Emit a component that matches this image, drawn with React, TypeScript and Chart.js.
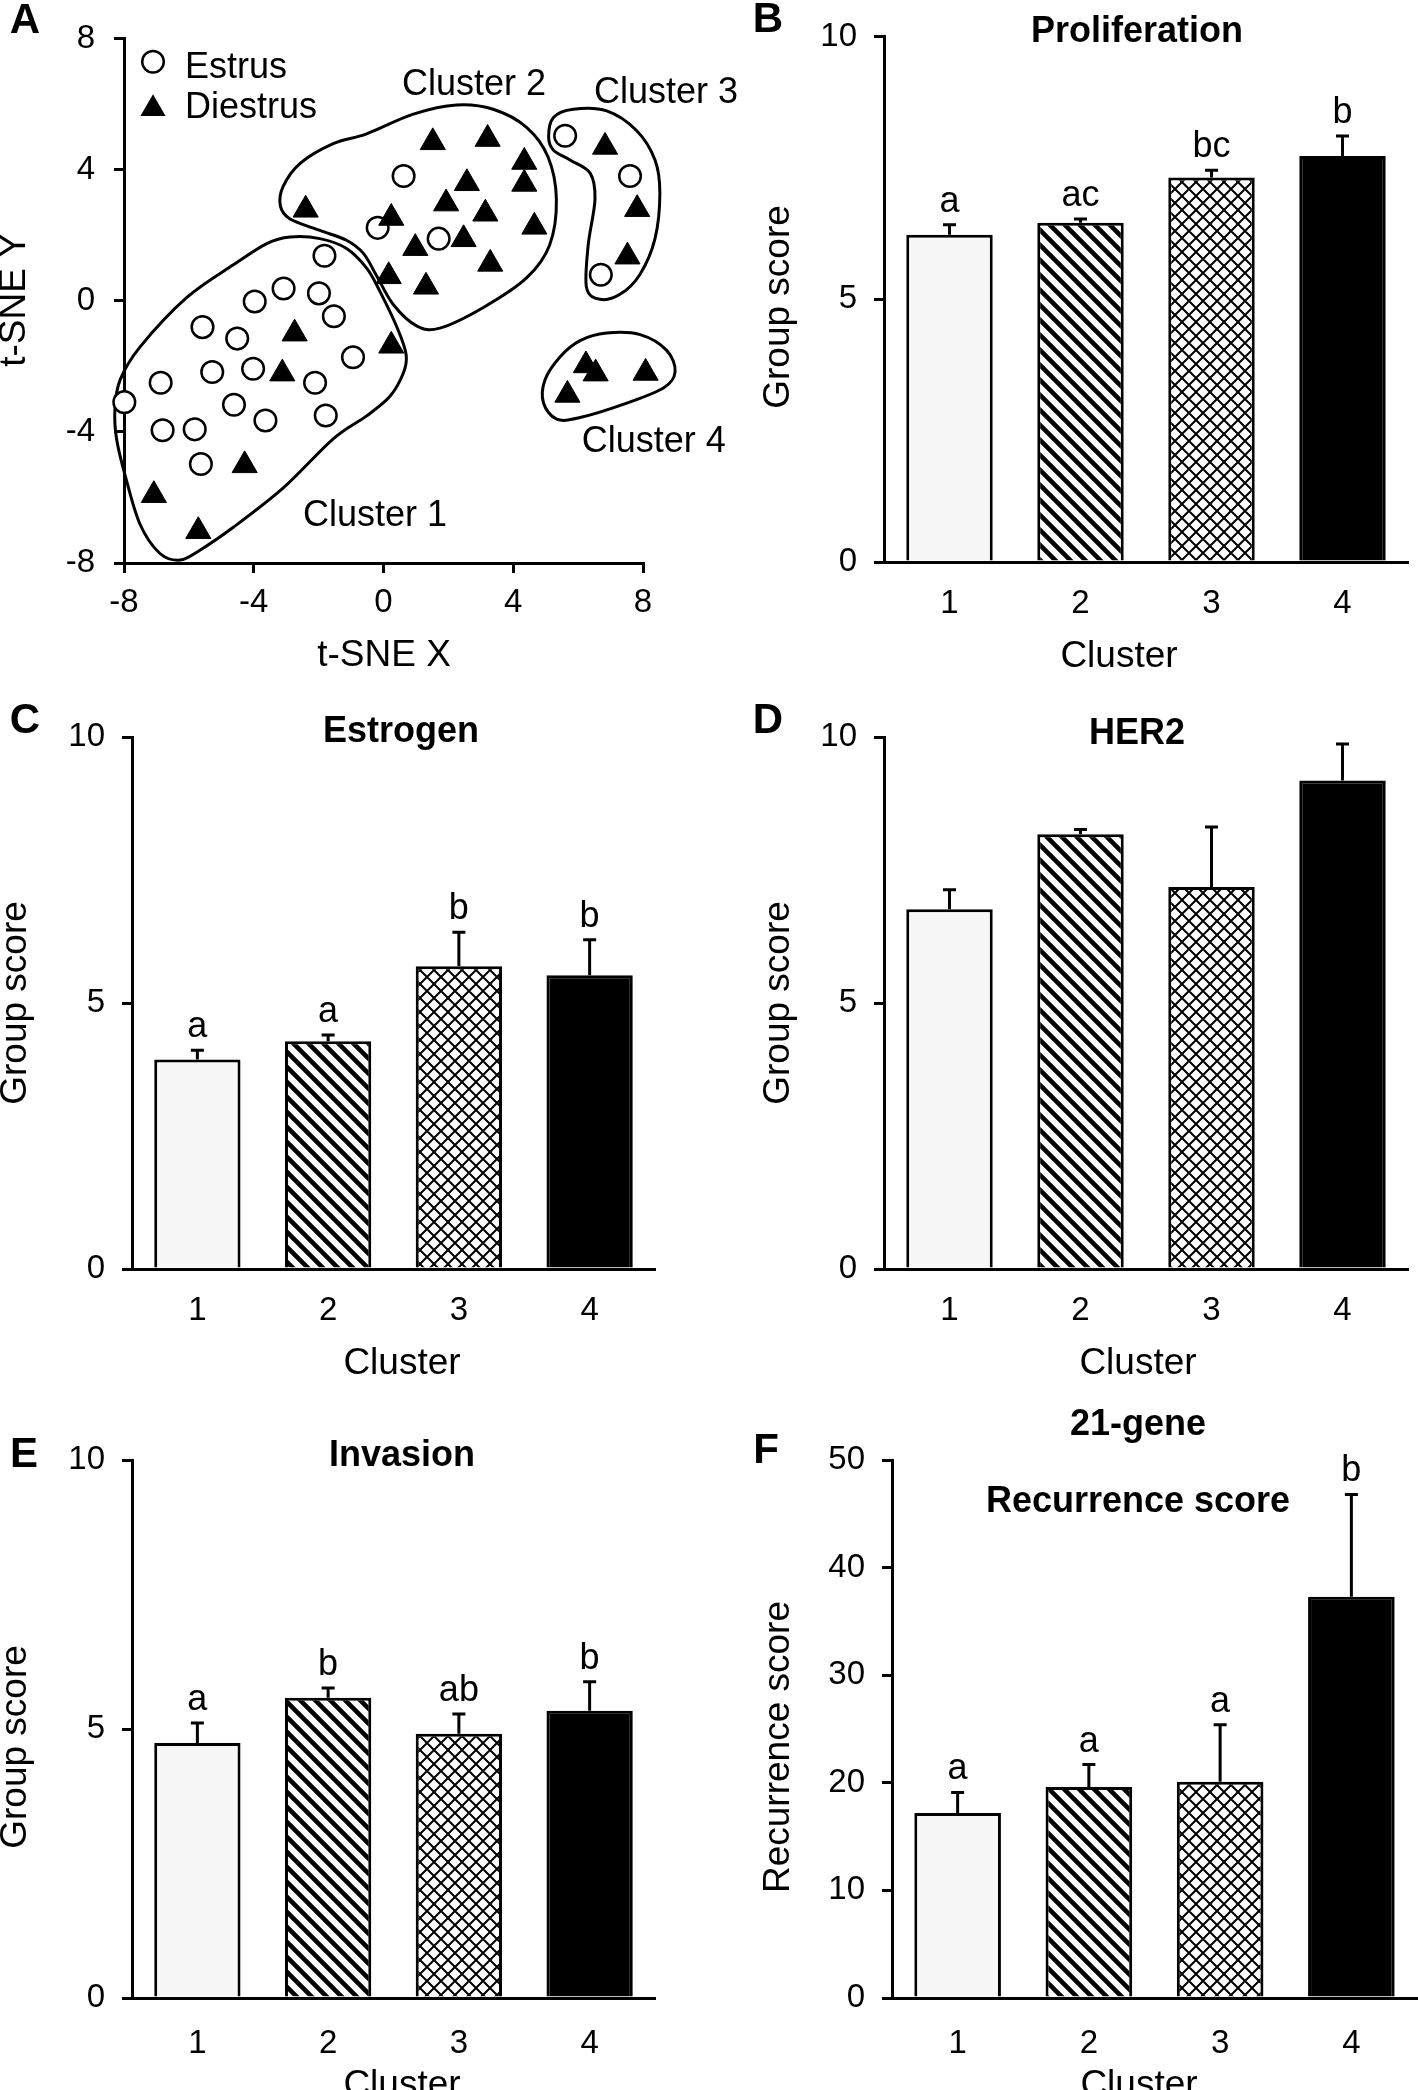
import React, { useEffect, useRef } from "react";
import { Chart, registerables } from "chart.js";

Chart.register(...registerables);

const FONT = "'Liberation Sans', Arial, Helvetica, sans-serif";

// ---------------- Panel A : t-SNE ----------------
const tsneTicks = [-8, -4, 0, 4, 8];
const legendLabels = ["Estrus", "Diestrus"];

const estrusX = [-1.82, -3.08, -3.97, -1.99, -1.53, -5.58, -4.51, -0.94, -5.28, -4.02, -2.11, -6.87, -7.99, -4.61, -3.64, -1.78, -6.81, -5.82, -5.63, 0.62, -0.18, 1.7, 5.6, 7.6, 6.7];
const estrusY = [1.38, 0.38, -0.02, 0.23, -0.47, -0.8, -1.15, -1.72, -2.17, -2.07, -2.5, -2.5, -3.09, -3.17, -3.65, -3.5, -3.95, -3.92, -4.98, 3.81, 2.23, 1.9, 5.04, 3.81, 0.8];

const diestrusX = [-2.74, -3.12, -4.28, -7.08, -5.71, 0.24, -2.4, 1.52, 3.21, 4.34, 4.34, 2.57, 1.93, 3.14, 0.24, 4.65, 2.47, 0.98, 3.29, 0.16, 1.31, 6.83, 7.82, 7.52, 6.24, 6.54, 8.08, 5.67];
const diestrusY = [-1.0, -2.22, -5.02, -5.93, -7.03, -1.37, 2.78, 4.84, 4.94, 4.24, 3.57, 3.59, 2.97, 2.66, 2.53, 2.26, 1.88, 1.61, 1.13, 0.75, 0.43, 4.7, 2.8, 1.35, -1.97, -2.22, -2.2, -2.87];

const cluster1OutlineX = [-2.88, -1.96, -1.14, -0.52, -0.11, 0.46, 0.7, 0.61, 0.2, -0.52, -1.55, -3.09, -4.63, -5.66, -6.27, -6.89, -7.51, -7.97, -8.23, -8.28, -8.12, -7.51, -6.07, -4.63, -3.6];
const cluster1OutlineY = [1.95, 1.9, 1.6, 1.0, 0.29, -0.91, -1.66, -2.21, -2.91, -3.51, -4.21, -5.71, -6.91, -7.61, -7.91, -7.71, -6.81, -5.31, -4.21, -3.31, -2.41, -1.41, 0.1, 1.1, 1.75];
const cluster2OutlineX = [0.92, 2.25, 3.38, 4.41, 5.07, 5.33, 5.12, 4.41, 3.08, 1.74, 1.02, 0.3, -0.23, -0.62, -1.14, -1.96, -2.88, -3.18, -3.09, -2.57, -1.55, -0.52];
const cluster2OutlineY = [5.7, 5.98, 5.85, 5.3, 4.4, 3.1, 1.7, 0.7, -0.2, -0.83, -0.76, -0.11, 0.8, 1.45, 1.85, 2.15, 2.5, 2.9, 3.5, 4.2, 4.8, 5.1];
const cluster3OutlineX = [5.24, 5.85, 6.88, 7.8, 8.37, 8.52, 8.37, 7.9, 7.29, 6.67, 6.26, 6.31, 6.52, 6.37, 5.75, 5.24, 5.09];
const cluster3OutlineY = [5.6, 5.85, 5.8, 5.2, 4.3, 3.3, 1.9, 0.8, 0.2, 0.05, 0.4, 1.7, 3.1, 3.9, 4.3, 4.6, 5.0];
const cluster4OutlineX = [6.88, 7.91, 8.73, 8.99, 8.63, 7.39, 6.06, 5.34, 4.93, 4.98, 5.44, 6.06];
const cluster4OutlineY = [-0.98, -1.03, -1.51, -2.16, -2.66, -3.16, -3.56, -3.61, -3.11, -2.41, -1.71, -1.21];

const clusterNames = ["Cluster 1", "Cluster 2", "Cluster 3", "Cluster 4"];
const clusterNameX = [-0.26, 2.79, 8.71, 8.33];
const clusterNameY = [-6.56, 6.59, 6.35, -4.31];

// ---------------- Bar panels ----------------
const clusterCategories = ["1", "2", "3", "4"];
const groupScoreTicks = [0, 5, 10];
const recurrenceTicks = [0, 10, 20, 30, 40, 50];

const proliferationMean = [6.23, 6.46, 7.32, 7.73];
const proliferationSem = [0.19, 0.07, 0.14, 0.38];
const proliferationLetters = ["a", "ac", "bc", "b"];

const estrogenMean = [3.94, 4.28, 5.69, 5.52];
const estrogenSem = [0.17, 0.12, 0.64, 0.67];
const estrogenLetters = ["a", "a", "b", "b"];

const her2Mean = [6.76, 8.17, 7.18, 9.18];
const her2Sem = [0.37, 0.09, 1.13, 0.69];
const her2Letters = ["", "", "", ""];

const invasionMean = [4.74, 5.58, 4.91, 5.34];
const invasionSem = [0.37, 0.18, 0.37, 0.54];
const invasionLetters = ["a", "b", "ab", "b"];

const recurrenceMean = [17.2, 19.6, 20.1, 37.3];
const recurrenceSem = [1.9, 2.1, 5.3, 9.5];
const recurrenceLetters = ["a", "a", "a", "b"];

// ---------------- layout types ----------------
type Rect = { x: number; y: number; w: number; h: number };
type Area = { l: number; t: number; r: number; b: number };
type Label = { text: string; x: number; y: number };
type PanelText = { letter: Label; titles: Label[]; xTitle: Label; yTitle: Label };

const TICK_SIZE = 33;

function panelTextPlugin(rect: Rect, t: PanelText) {
  return {
    id: "panelText",
    afterDraw(chart: any) {
      const ctx: CanvasRenderingContext2D = chart.ctx;
      ctx.save();
      ctx.fillStyle = "#000";
      ctx.textAlign = "center";
      ctx.textBaseline = "middle";
      ctx.font = `bold 42px ${FONT}`;
      ctx.fillText(t.letter.text, t.letter.x - rect.x, t.letter.y - rect.y);
      ctx.font = `bold 36px ${FONT}`;
      t.titles.forEach((s) => ctx.fillText(s.text, s.x - rect.x, s.y - rect.y));
      ctx.font = `37px ${FONT}`;
      ctx.textBaseline = "alphabetic";
      ctx.fillText(t.xTitle.text, t.xTitle.x - rect.x, t.xTitle.y - rect.y);
      ctx.translate(t.yTitle.x - rect.x, t.yTitle.y - rect.y);
      ctx.rotate(-Math.PI / 2);
      ctx.fillText(t.yTitle.text, 0, 0);
      ctx.restore();
    },
  };
}

function stripePattern(ctx: CanvasRenderingContext2D) {
  const s = 15;
  const c = document.createElement("canvas");
  c.width = s;
  c.height = s;
  const g = c.getContext("2d")!;
  g.fillStyle = "#fff";
  g.fillRect(0, 0, s, s);
  g.strokeStyle = "#000";
  g.lineWidth = 4.6;
  g.beginPath();
  g.moveTo(-4, -4);
  g.lineTo(s + 4, s + 4);
  g.moveTo(-4, s - 4);
  g.lineTo(4, s + 4);
  g.moveTo(s - 4, -4);
  g.lineTo(s + 4, 4);
  g.stroke();
  return ctx.createPattern(c, "repeat")!;
}

function crossPattern(ctx: CanvasRenderingContext2D) {
  const s = 14;
  const c = document.createElement("canvas");
  c.width = s;
  c.height = s;
  const g = c.getContext("2d")!;
  g.fillStyle = "#fff";
  g.fillRect(0, 0, s, s);
  g.strokeStyle = "#000";
  g.lineWidth = 2;
  g.beginPath();
  g.moveTo(-1, -1);
  g.lineTo(s + 1, s + 1);
  g.moveTo(s + 1, -1);
  g.lineTo(-1, s + 1);
  g.stroke();
  return ctx.createPattern(c, "repeat")!;
}

type BarSpec = {
  key: string;
  rect: Rect;
  area: Area;
  mean: number[];
  sem: number[];
  letters: string[];
  ticks: number[];
  xTickPad: number;
  text: PanelText;
};

function barExtrasPlugin(spec: BarSpec) {
  return {
    id: "barExtras",
    afterDatasetsDraw(chart: any) {
      const ctx: CanvasRenderingContext2D = chart.ctx;
      const meta = chart.getDatasetMeta(0);
      const yScale = chart.scales.y;
      ctx.save();
      ctx.strokeStyle = "#000";
      ctx.fillStyle = "#000";
      ctx.lineWidth = 3;
      meta.data.forEach((bar: any, i: number) => {
        const top = yScale.getPixelForValue(spec.mean[i] + spec.sem[i]);
        ctx.beginPath();
        ctx.moveTo(bar.x, bar.y);
        ctx.lineTo(bar.x, top);
        ctx.moveTo(bar.x - 6.5, top);
        ctx.lineTo(bar.x + 6.5, top);
        ctx.stroke();
        const letter = spec.letters[i];
        if (letter) {
          ctx.font = `36px ${FONT}`;
          ctx.textAlign = "center";
          ctx.textBaseline = "alphabetic";
          ctx.fillText(letter, bar.x, top - 13);
        }
      });
      ctx.restore();
    },
  };
}

function buildBarConfig(canvas: HTMLCanvasElement, spec: BarSpec): any {
  const ctx = canvas.getContext("2d")!;
  const fills = ["#f7f7f7", stripePattern(ctx), crossPattern(ctx), "#000000"];
  const { rect, area } = spec;
  const yW = area.l - rect.x;
  const xH = rect.y + rect.h - area.b;
  const tickFont = { family: FONT, size: TICK_SIZE };
  return {
    type: "bar",
    data: {
      labels: clusterCategories,
      datasets: [
        {
          data: spec.mean,
          backgroundColor: fills,
          borderColor: "#000",
          borderWidth: 3,
          barPercentage: 0.66,
          categoryPercentage: 1,
        },
      ],
    },
    options: {
      responsive: false,
      animation: false,
      devicePixelRatio: 1,
      events: [],
      layout: { padding: { left: 0, top: area.t - rect.y, right: rect.x + rect.w - area.r, bottom: 0 } },
      plugins: { legend: { display: false }, tooltip: { enabled: false } },
      scales: {
        x: {
          type: "category",
          offset: true,
          grid: { display: false, drawTicks: false },
          border: { display: true, color: "#000", width: 3 },
          ticks: { color: "#000", font: tickFont, padding: spec.xTickPad },
          afterFit: (s: any) => {
            s.height = xH;
          },
        },
        y: {
          type: "linear",
          min: spec.ticks[0],
          max: spec.ticks[spec.ticks.length - 1],
          ticks: { stepSize: spec.ticks[1] - spec.ticks[0], color: "#000", font: tickFont, padding: 17 },
          grid: {
            display: true,
            drawOnChartArea: false,
            drawTicks: true,
            tickLength: 10,
            tickWidth: 3,
            tickColor: "#000",
            color: "#000",
            lineWidth: 3,
          },
          border: { display: true, color: "#000", width: 3 },
          afterFit: (s: any) => {
            s.width = yW;
          },
        },
      },
    },
    plugins: [barExtrasPlugin(spec), panelTextPlugin(rect, spec.text)],
  };
}

const barSpecs: BarSpec[] = [
  {
    key: "B",
    rect: { x: 720, y: 0, w: 698, h: 680 },
    area: { l: 884, t: 30, r: 1408, b: 562 },
    mean: proliferationMean,
    sem: proliferationSem,
    letters: proliferationLetters,
    ticks: groupScoreTicks,
    xTickPad: 22,
    text: {
      letter: { text: "B", x: 768, y: 20 },
      titles: [{ text: "Proliferation", x: 1137, y: 32 }],
      xTitle: { text: "Cluster", x: 1119, y: 667 },
      yTitle: { text: "Group score", x: 789, y: 307 },
    },
  },
  {
    key: "C",
    rect: { x: 0, y: 690, w: 710, h: 700 },
    area: { l: 132, t: 737, r: 655, b: 1269 },
    mean: estrogenMean,
    sem: estrogenSem,
    letters: estrogenLetters,
    ticks: groupScoreTicks,
    xTickPad: 22,
    text: {
      letter: { text: "C", x: 25, y: 721 },
      titles: [{ text: "Estrogen", x: 401, y: 732 }],
      xTitle: { text: "Cluster", x: 402, y: 1374 },
      yTitle: { text: "Group score", x: 26, y: 1003 },
    },
  },
  {
    key: "D",
    rect: { x: 720, y: 690, w: 698, h: 700 },
    area: { l: 884, t: 737, r: 1408, b: 1269 },
    mean: her2Mean,
    sem: her2Sem,
    letters: her2Letters,
    ticks: groupScoreTicks,
    xTickPad: 22,
    text: {
      letter: { text: "D", x: 768, y: 721 },
      titles: [{ text: "HER2", x: 1137, y: 734 }],
      xTitle: { text: "Cluster", x: 1138, y: 1374 },
      yTitle: { text: "Group score", x: 789, y: 1003 },
    },
  },
  {
    key: "E",
    rect: { x: 0, y: 1400, w: 710, h: 690 },
    area: { l: 132, t: 1460, r: 655, b: 1998 },
    mean: invasionMean,
    sem: invasionSem,
    letters: invasionLetters,
    ticks: groupScoreTicks,
    xTickPad: 26,
    text: {
      letter: { text: "E", x: 24, y: 1455 },
      titles: [{ text: "Invasion", x: 402, y: 1456 }],
      xTitle: { text: "Cluster", x: 402, y: 2096 },
      yTitle: { text: "Group score", x: 26, y: 1747 },
    },
  },
  {
    key: "F",
    rect: { x: 720, y: 1400, w: 698, h: 690 },
    area: { l: 892, t: 1460, r: 1417, b: 1998 },
    mean: recurrenceMean,
    sem: recurrenceSem,
    letters: recurrenceLetters,
    ticks: recurrenceTicks,
    xTickPad: 26,
    text: {
      letter: { text: "F", x: 766, y: 1451 },
      titles: [
        { text: "21-gene", x: 1138, y: 1425 },
        { text: "Recurrence score", x: 1138, y: 1502 },
      ],
      xTitle: { text: "Cluster", x: 1139, y: 2096 },
      yTitle: { text: "Recurrence score", x: 789, y: 1747 },
    },
  },
];

// ---------------- scatter (panel A) ----------------
const scatterRect: Rect = { x: 0, y: 0, w: 770, h: 680 };
const scatterArea: Area = { l: 124, t: 30, r: 643, b: 563 };
const scatterText: PanelText = {
  letter: { text: "A", x: 25, y: 21 },
  titles: [],
  xTitle: { text: "t-SNE X", x: 384, y: 666 },
  yTitle: { text: "t-SNE Y", x: 25, y: 300 },
};

function closedSpline(ctx: CanvasRenderingContext2D, pts: { x: number; y: number }[]) {
  const n = pts.length;
  ctx.beginPath();
  ctx.moveTo(pts[0].x, pts[0].y);
  for (let i = 0; i < n; i++) {
    const p0 = pts[(i - 1 + n) % n];
    const p1 = pts[i];
    const p2 = pts[(i + 1) % n];
    const p3 = pts[(i + 2) % n];
    ctx.bezierCurveTo(
      p1.x + (p2.x - p0.x) / 6,
      p1.y + (p2.y - p0.y) / 6,
      p2.x - (p3.x - p1.x) / 6,
      p2.y - (p3.y - p1.y) / 6,
      p2.x,
      p2.y
    );
  }
  ctx.closePath();
  ctx.stroke();
}

const outlines = [
  [cluster1OutlineX, cluster1OutlineY],
  [cluster2OutlineX, cluster2OutlineY],
  [cluster3OutlineX, cluster3OutlineY],
  [cluster4OutlineX, cluster4OutlineY],
];

const scatterExtrasPlugin = {
  id: "scatterExtras",
  beforeDatasetsDraw(chart: any) {
    const ctx: CanvasRenderingContext2D = chart.ctx;
    const xs = chart.scales.x;
    const ys = chart.scales.y;
    ctx.save();
    ctx.strokeStyle = "#000";
    ctx.lineWidth = 3;
    outlines.forEach(([ox, oy]) => {
      const pts = ox.map((v, i) => ({ x: xs.getPixelForValue(v), y: ys.getPixelForValue(oy[i]) }));
      closedSpline(ctx, pts);
    });
    ctx.restore();
  },
  afterDatasetsDraw(chart: any) {
    const ctx: CanvasRenderingContext2D = chart.ctx;
    const xs = chart.scales.x;
    const ys = chart.scales.y;
    const ca = chart.chartArea;
    ctx.save();
    ctx.fillStyle = "#000";
    ctx.strokeStyle = "#000";
    // legend
    const lx = ca.left + 29;
    ctx.lineWidth = 2.5;
    ctx.beginPath();
    ctx.fillStyle = "#fff";
    ctx.arc(lx, ca.top + 23, 10.8, 0, Math.PI * 2);
    ctx.fill();
    ctx.stroke();
    ctx.fillStyle = "#000";
    const r = 14.5;
    const ty = ca.top + 70;
    ctx.beginPath();
    ctx.moveTo(lx, ty - r);
    ctx.lineTo(lx + r * Math.sin((2 * Math.PI) / 3), ty - r * Math.cos((2 * Math.PI) / 3));
    ctx.lineTo(lx + r * Math.sin((4 * Math.PI) / 3), ty - r * Math.cos((4 * Math.PI) / 3));
    ctx.closePath();
    ctx.fill();
    ctx.font = `36px ${FONT}`;
    ctx.textAlign = "left";
    ctx.textBaseline = "alphabetic";
    ctx.fillText(legendLabels[0], ca.left + 61, ca.top + 39);
    ctx.fillText(legendLabels[1], ca.left + 61, ca.top + 79);
    // cluster names
    ctx.textAlign = "center";
    ctx.textBaseline = "middle";
    clusterNames.forEach((name, i) => {
      ctx.fillText(name, xs.getPixelForValue(clusterNameX[i]), ys.getPixelForValue(clusterNameY[i]));
    });
    ctx.restore();
  },
};

function buildScatterConfig(): any {
  const rect = scatterRect;
  const area = scatterArea;
  const yW = area.l - rect.x;
  const xH = rect.y + rect.h - area.b;
  const tickFont = { family: FONT, size: TICK_SIZE };
  const axisGrid = {
    display: true,
    drawOnChartArea: false,
    drawTicks: true,
    tickLength: 10,
    tickWidth: 3,
    tickColor: "#000",
    color: "#000",
    lineWidth: 3,
  };
  return {
    type: "scatter",
    data: {
      datasets: [
        {
          label: legendLabels[0],
          data: estrusX.map((x, i) => ({ x, y: estrusY[i] })),
          pointStyle: "circle",
          pointRadius: 10.8,
          backgroundColor: "#fff",
          borderColor: "#000",
          borderWidth: 2.5,
          order: 1,
          clip: false,
        },
        {
          label: legendLabels[1],
          data: diestrusX.map((x, i) => ({ x, y: diestrusY[i] })),
          pointStyle: "triangle",
          pointRadius: 14.5,
          backgroundColor: "#000",
          borderColor: "#000",
          borderWidth: 1,
          order: 0,
          clip: false,
        },
      ],
    },
    options: {
      responsive: false,
      animation: false,
      devicePixelRatio: 1,
      events: [],
      layout: { padding: { left: 0, top: area.t - rect.y, right: rect.x + rect.w - area.r, bottom: 0 } },
      plugins: { legend: { display: false }, tooltip: { enabled: false } },
      scales: {
        x: {
          type: "linear",
          min: tsneTicks[0],
          max: tsneTicks[tsneTicks.length - 1],
          ticks: { stepSize: tsneTicks[1] - tsneTicks[0], color: "#000", font: tickFont, padding: 10 },
          grid: axisGrid,
          border: { display: true, color: "#000", width: 3 },
          afterFit: (s: any) => {
            s.height = xH;
          },
        },
        y: {
          type: "linear",
          min: tsneTicks[0],
          max: tsneTicks[tsneTicks.length - 1],
          ticks: { stepSize: tsneTicks[1] - tsneTicks[0], color: "#000", font: tickFont, padding: 19 },
          grid: axisGrid,
          border: { display: true, color: "#000", width: 3 },
          afterFit: (s: any) => {
            s.width = yW;
          },
        },
      },
    },
    plugins: [scatterExtrasPlugin, panelTextPlugin(rect, scatterText)],
  };
}

function ScatterPanel() {
  const ref = useRef<HTMLCanvasElement>(null);
  useEffect(() => {
    const chart = new Chart(ref.current!, buildScatterConfig());
    return () => chart.destroy();
  }, []);
  const r = scatterRect;
  return (
    <canvas
      ref={ref}
      width={r.w}
      height={r.h}
      style={{ position: "absolute", left: r.x, top: r.y, width: r.w, height: r.h, display: "block" }}
    />
  );
}

function BarPanel({ spec }: { spec: BarSpec }) {
  const ref = useRef<HTMLCanvasElement>(null);
  useEffect(() => {
    const chart = new Chart(ref.current!, buildBarConfig(ref.current!, spec));
    return () => chart.destroy();
  }, [spec]);
  const r = spec.rect;
  return (
    <canvas
      ref={ref}
      width={r.w}
      height={r.h}
      style={{ position: "absolute", left: r.x, top: r.y, width: r.w, height: r.h, display: "block" }}
    />
  );
}

export default function App() {
  return (
    <div
      style={{
        position: "absolute",
        left: 0,
        top: 0,
        width: 1418,
        height: 2090,
        overflow: "hidden",
        background: "#fff",
      }}
    >
      <ScatterPanel />
      {barSpecs.map((s) => (
        <BarPanel key={s.key} spec={s} />
      ))}
    </div>
  );
}
